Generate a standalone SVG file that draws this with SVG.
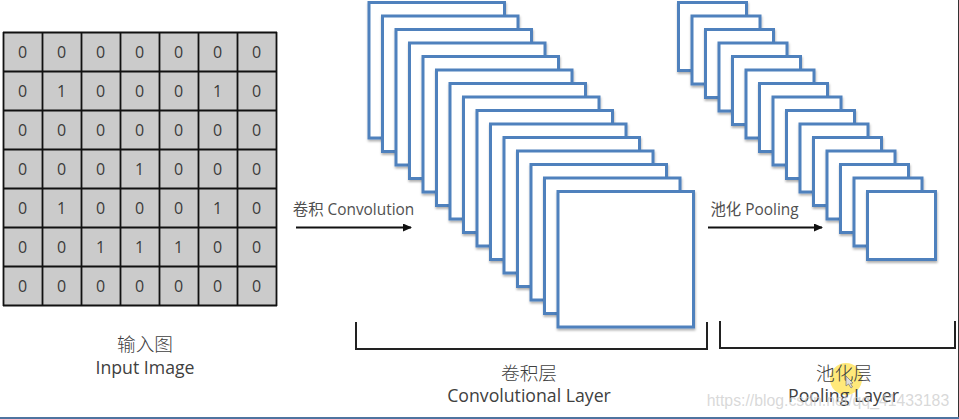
<svg xmlns="http://www.w3.org/2000/svg" width="959" height="419" viewBox="0 0 959 419">
<style>
.c{fill:#cbcbcb}
.g{stroke:#111;stroke-width:1.8;fill:none}
.n{font:16px "Open Sans","Noto Sans CJK SC",sans-serif;fill:#3a3a3a;text-anchor:middle}
.l{font:17.7px "Open Sans","Noto Sans CJK SC",sans-serif;fill:#404040;text-anchor:middle}
.z{font:300 18.7px "Noto Sans CJK SC",sans-serif;fill:#404040;text-anchor:middle}
.a{font:15.4px "Open Sans","Noto Sans CJK SC",sans-serif;fill:#505050;text-anchor:middle}
.s rect{fill:#fff;stroke:#4f81bd;stroke-width:3;filter:url(#sh)}
.b{fill:none;stroke:#222;stroke-width:2}
.e{stroke:#111;stroke-width:1.8;fill:none;marker-end:url(#ah)}
</style>
<defs>
<filter id="sh" x="-10%" y="-10%" width="125%" height="125%"><feDropShadow dx="0.5" dy="2" stdDeviation="1.2" flood-color="#000" flood-opacity="0.3"/></filter>
<marker id="ah" markerUnits="userSpaceOnUse" markerWidth="9" markerHeight="8" refX="8" refY="4" orient="auto"><path d="M0 0L9 4L0 8Z" fill="#111"/></marker>
</defs>
<rect width="959" height="419" fill="#fff"/>
<g id="input-image">
<rect class="c" x="3.5" y="32.5" width="273" height="273.5"/>
<path class="g" d="M3.500 32V306M42.500 32V306M81.500 32V306M120.500 32V306M159.500 32V306M198.500 32V306M237.500 32V306M276.500 32V306M3 32.500H277M3 71.500H277M3 110.500H277M3 149.500H277M3 188.500H277M3 227.500H277M3 266.500H277M3 305.500H277"/>
<g class="n">
<text x="22.500" y="58">0</text><text x="61.500" y="58">0</text><text x="100.500" y="58">0</text><text x="139.500" y="58">0</text><text x="178.500" y="58">0</text><text x="217.500" y="58">0</text><text x="256.500" y="58">0</text>
<text x="22.500" y="97">0</text><text x="61.500" y="97">1</text><text x="100.500" y="97">0</text><text x="139.500" y="97">0</text><text x="178.500" y="97">0</text><text x="217.500" y="97">1</text><text x="256.500" y="97">0</text>
<text x="22.500" y="136">0</text><text x="61.500" y="136">0</text><text x="100.500" y="136">0</text><text x="139.500" y="136">0</text><text x="178.500" y="136">0</text><text x="217.500" y="136">0</text><text x="256.500" y="136">0</text>
<text x="22.500" y="175">0</text><text x="61.500" y="175">0</text><text x="100.500" y="175">0</text><text x="139.500" y="175">1</text><text x="178.500" y="175">0</text><text x="217.500" y="175">0</text><text x="256.500" y="175">0</text>
<text x="22.500" y="214">0</text><text x="61.500" y="214">1</text><text x="100.500" y="214">0</text><text x="139.500" y="214">0</text><text x="178.500" y="214">0</text><text x="217.500" y="214">1</text><text x="256.500" y="214">0</text>
<text x="22.500" y="253">0</text><text x="61.500" y="253">0</text><text x="100.500" y="253">1</text><text x="139.500" y="253">1</text><text x="178.500" y="253">1</text><text x="217.500" y="253">0</text><text x="256.500" y="253">0</text>
<text x="22.500" y="292">0</text><text x="61.500" y="292">0</text><text x="100.500" y="292">0</text><text x="139.500" y="292">0</text><text x="178.500" y="292">0</text><text x="217.500" y="292">0</text><text x="256.500" y="292">0</text>
</g>
<text class="z" x="145" y="351">输入图</text>
<text class="l" x="145" y="374">Input Image</text>
</g>
<g id="convolutional-layer">
<g class="s">
<rect x="369" y="2.500" width="135.500" height="135.500"/>
<rect x="382.500" y="16" width="135.500" height="135.500"/>
<rect x="396" y="29.500" width="135.500" height="135.500"/>
<rect x="409.500" y="43" width="135.500" height="135.500"/>
<rect x="423" y="56.500" width="135.500" height="135.500"/>
<rect x="436.500" y="70" width="135.500" height="135.500"/>
<rect x="450" y="83.500" width="135.500" height="135.500"/>
<rect x="463.500" y="97" width="135.500" height="135.500"/>
<rect x="477" y="110.500" width="135.500" height="135.500"/>
<rect x="490.500" y="124" width="135.500" height="135.500"/>
<rect x="504" y="137.500" width="135.500" height="135.500"/>
<rect x="517.500" y="151" width="135.500" height="135.500"/>
<rect x="531" y="164.500" width="135.500" height="135.500"/>
<rect x="544.500" y="178" width="135.500" height="135.500"/>
<rect x="558" y="191.500" width="135.500" height="135.500"/>
</g>
<path class="b" d="M356 322V349H707V322"/>
<text class="z" x="529" y="380">卷积层</text>
<text class="l" x="529" y="402">Convolutional Layer</text>
</g>
<g id="pooling-layer">
<g class="s">
<rect x="678.500" y="2.500" width="68" height="68"/>
<rect x="692" y="16" width="68" height="68"/>
<rect x="705.500" y="29.500" width="68" height="68"/>
<rect x="719" y="43" width="68" height="68"/>
<rect x="732.500" y="56.500" width="68" height="68"/>
<rect x="746" y="70" width="68" height="68"/>
<rect x="759.500" y="83.500" width="68" height="68"/>
<rect x="773" y="97" width="68" height="68"/>
<rect x="786.500" y="110.500" width="68" height="68"/>
<rect x="800" y="124" width="68" height="68"/>
<rect x="813.500" y="137.500" width="68" height="68"/>
<rect x="827" y="151" width="68" height="68"/>
<rect x="840.500" y="164.500" width="68" height="68"/>
<rect x="854" y="178" width="68" height="68"/>
<rect x="867.500" y="191.500" width="68" height="68"/>
</g>
<path class="b" d="M720 321V348H955V321"/>
<circle cx="846" cy="379" r="16" fill="#ffe14d" fill-opacity="0.75"/>
<text class="z" x="844" y="380">池化层</text>
<text class="l" x="843.500" y="402">Pooling Layer</text>
</g>
<g id="connectors">
<path class="e" d="M296 227.500H411"/>
<path class="e" d="M708 227.500H822"/>
</g>
<g id="connector-labels">
<text class="a" x="353.500" y="215">卷积 Convolution</text>
<text class="a" x="754.500" y="215">池化 Pooling</text>
</g>
<text x="828" y="406" font-family="Liberation Sans,sans-serif" font-size="15.800" fill="#c8c8c8" fill-opacity="0.7" text-anchor="middle">https://blog.csdn.net/qq_41433183</text>
<path d="M846 376V386L848.500 384L851 388L852.500 387L850.500 383.500L853 383Z" fill="#ddd" stroke="#666" stroke-width="0.6"/>
<path d="M958.500 0V419" stroke="#333" stroke-width="1"/>
<path d="M0 418H959" stroke="#4f74a0" stroke-width="2"/>
</svg>
